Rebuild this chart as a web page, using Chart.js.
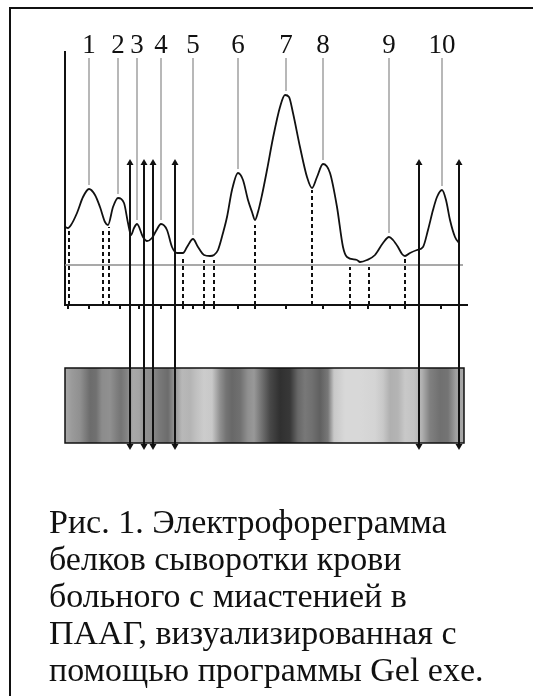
<!DOCTYPE html>
<html>
<head>
<meta charset="utf-8">
<script src="https://cdn.jsdelivr.net/npm/chart.js@4.4.1/dist/chart.umd.min.js"></script>
<style>
  html, body { margin: 0; padding: 0; background: #fff; }
  body { width: 533px; height: 696px; position: relative; overflow: hidden; }
  #frame { position: absolute; left: 9px; top: 7px; right: -10px; bottom: -10px;
           border-top: 2px solid #111; border-left: 2px solid #111; }
  #chart { position: absolute; left: 0; top: 0; }
  #caption { position: absolute; left: 49px; top: 503px; margin: 0;
             font-family: 'Liberation Serif', 'Times New Roman', serif;
             font-size: 34px; line-height: 37px; color: #111; white-space: nowrap; }
</style>
</head>
<body>
<div id="frame"></div>
<canvas id="chart" width="533" height="696"></canvas>
<p id="caption">Рис. 1. Электрофореграмма<br>белков сыворотки крови<br>больного с миастенией в<br>ПААГ, визуализированная с<br>помощью программы Gel exe.</p>
<script>
// densitogram trace: position along the lane / optical density
const tracePos = [0, 3, 6, 12, 18, 24, 30, 35, 40, 43, 48, 53, 59, 63, 66, 69, 72, 78, 82, 87,
  91, 96, 102, 107, 112, 118, 122, 128, 133, 139, 145, 149, 153, 158, 162, 167, 173, 178, 183, 187,
  190, 193, 197, 202, 208, 215, 220, 224, 228, 235, 242, 247, 252, 258, 265, 272, 278, 282, 292, 295,
  302, 310, 318, 324, 328, 333, 337, 340, 345, 352, 358, 363, 368, 372, 377, 381, 385, 390, 394];
const traceDensity = [78, 77, 80, 92, 108, 116, 110, 98, 83, 80, 98, 107, 102, 82, 70, 77, 81, 68, 64, 67,
  74, 81, 75, 58, 52, 52, 58, 66, 58, 50, 49, 50, 55, 72, 88, 115, 132, 125, 105, 93,
  85, 93, 110, 135, 167, 198, 210, 208, 192, 158, 128, 117, 128, 141, 132, 98, 58, 48, 45, 43,
  45, 50, 62, 68, 65, 58, 51, 49, 52, 55, 58, 75, 95, 108, 115, 105, 85, 68, 62];

// numbered fractions
const peakNames = ['1', '2', '3', '4', '5', '6', '7', '8', '9', '10'];
const peakPos = [24, 53, 72, 96, 128, 173, 221, 258, 324, 377];
const peakDensity = [116, 107, 81, 81, 66, 132, 210, 141, 68, 115];

// dashed boundaries between fractions
const splitPos = [4, 38, 44, 118, 139, 149, 190, 247, 285, 304, 340];
const splitDensity = [75, 75, 78, 47, 45, 45, 80, 115, 38, 38, 47];

// marks on the lane axis
const tickPos = [3, 24, 55, 74, 96, 118, 128, 139, 149, 173, 190, 221, 258, 285, 303, 325, 340, 376];

const baselineLevel = 40;
const baselineEnd = 398;

// arrows linking the trace to the gel lane
const arrowPos = [65, 79, 88, 110, 354, 394];
const arrowFrom = 145;

// gel lane gray levels (0 = black, 255 = white)
const gelPos = [0, 7, 15, 25, 31, 37, 45, 51, 56, 62, 68, 74, 81, 87, 95, 103, 109, 117, 125, 131,
  139, 147, 155, 161, 167, 175, 183, 189, 197, 205, 215, 225, 233, 240, 247, 255, 263, 269, 280, 295,
  310, 318, 325, 333, 340, 349, 357, 365, 375, 383, 391, 399];
const gelGray = [168, 154, 144, 108, 112, 140, 144, 128, 116, 132, 168, 164, 144, 140, 120, 108, 144, 184, 180, 192,
  204, 200, 144, 116, 104, 112, 144, 152, 112, 72, 48, 56, 104, 120, 112, 96, 120, 200, 216, 216,
  212, 200, 176, 180, 200, 196, 176, 128, 112, 116, 160, 168];

const INK = '#111';
const GUIDE = '#a0a0a0';
const GUIDE_TOP = 247;
const GEL_TOP = 368, GEL_BOTTOM = 443, ARROW_END = 450;

const datasets = [];

datasets.push({
  data: tracePos.map((p, i) => ({ x: p, y: traceDensity[i] })),
  borderColor: INK, borderWidth: 1.8, cubicInterpolationMode: 'monotone'
});

datasets.push({
  data: [{ x: 0, y: baselineLevel }, { x: baselineEnd, y: baselineLevel }],
  borderColor: '#8c8c8c', borderWidth: 1.5
});

peakPos.forEach((p, i) => {
  datasets.push({
    data: [{ x: p, y: peakDensity[i] + 4 }, { x: p, y: GUIDE_TOP }],
    borderColor: GUIDE, borderWidth: 1.5
  });
});

splitPos.forEach((p, i) => {
  datasets.push({
    data: [{ x: p, y: 0 }, { x: p, y: splitDensity[i] }],
    borderColor: INK, borderWidth: 2, borderDash: [4, 3]
  });
});

const gelPlugin = {
  id: 'gelLane',
  afterDraw(chart) {
    const { ctx, scales: { x, y } } = chart;
    const left = x.getPixelForValue(gelPos[0]);
    const right = x.getPixelForValue(gelPos[gelPos.length - 1]);

    // gel lane
    const grad = ctx.createLinearGradient(left, 0, right, 0);
    gelPos.forEach((p, i) => {
      const g = gelGray[i];
      grad.addColorStop((p - gelPos[0]) / (gelPos[gelPos.length - 1] - gelPos[0]), `rgb(${g},${g},${g})`);
    });
    ctx.save();
    ctx.fillStyle = grad;
    ctx.fillRect(left, GEL_TOP, right - left, GEL_BOTTOM - GEL_TOP);
    ctx.strokeStyle = INK;
    ctx.lineWidth = 1.5;
    ctx.strokeRect(left, GEL_TOP, right - left, GEL_BOTTOM - GEL_TOP);

    // double-headed arrows
    const top = y.getPixelForValue(arrowFrom);
    ctx.fillStyle = INK;
    ctx.lineWidth = 2;
    arrowPos.forEach(p => {
      const px = Math.round(x.getPixelForValue(p));
      ctx.beginPath();
      ctx.moveTo(px, top + 4);
      ctx.lineTo(px, ARROW_END - 4);
      ctx.stroke();
      ctx.beginPath();
      ctx.moveTo(px, top - 1);
      ctx.lineTo(px - 3.5, top + 5);
      ctx.lineTo(px + 3.5, top + 5);
      ctx.closePath();
      ctx.fill();
      ctx.beginPath();
      ctx.moveTo(px, ARROW_END);
      ctx.lineTo(px - 3.5, ARROW_END - 6);
      ctx.lineTo(px + 3.5, ARROW_END - 6);
      ctx.closePath();
      ctx.fill();
    });

    // fraction numbers
    ctx.font = "27px 'Liberation Serif', 'Times New Roman', serif";
    ctx.textAlign = 'center';
    ctx.textBaseline = 'alphabetic';
    ctx.fillStyle = INK;
    peakPos.forEach((p, i) => {
      ctx.fillText(peakNames[i], x.getPixelForValue(p), 53);
    });
    ctx.restore();
  }
};

new Chart(document.getElementById('chart'), {
  type: 'line',
  data: { datasets },
  options: {
    responsive: false,
    animation: false,
    events: [],
    layout: { padding: { left: 65, top: 52, right: 66, bottom: 387 } },
    elements: { point: { radius: 0 }, line: { fill: false } },
    plugins: { legend: { display: false }, tooltip: { enabled: false } },
    scales: {
      x: {
        type: 'linear', min: 0, max: 402,
        afterBuildTicks: s => { s.ticks = tickPos.map(v => ({ value: v })); },
        ticks: { display: false },
        grid: { drawOnChartArea: false, drawTicks: true, tickLength: 4, color: INK, lineWidth: 2 },
        border: { display: true, color: INK, width: 2 }
      },
      y: {
        min: 0, max: 253,
        ticks: { display: false },
        grid: { drawOnChartArea: false, drawTicks: false },
        border: { display: true, color: INK, width: 2 }
      }
    }
  },
  plugins: [gelPlugin]
});
</script>
</body>
</html>
